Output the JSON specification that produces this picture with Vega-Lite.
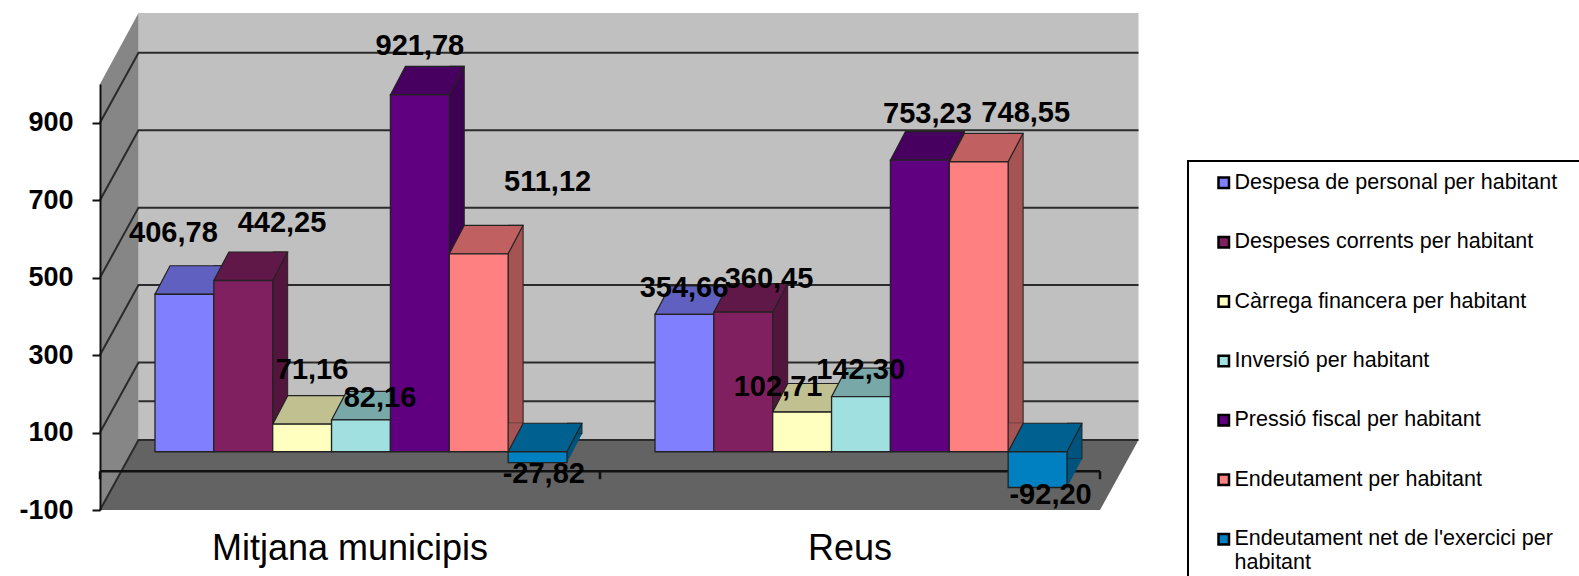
{
"$schema":"https://vega.github.io/schema/vega-lite/v6.json",
"width":1000,"height":426,
"autosize":{"type":"none"},
"padding":{"left":100,"top":84,"right":479,"bottom":66},
"background":"white",
"config":{"view":{"stroke":null}},
"datasets":{
"anchor":[{"g":"Mitjana municipis"},{"g":"Reus"}],
"ticks":[{"t":-100},{"t":100},{"t":300},{"t":500},{"t":700},{"t":900}],
"bars":[
{"g":"Mitjana municipis","s":"Despesa de personal per habitant","v":406.78,"t":"406,78"},
{"g":"Mitjana municipis","s":"Despeses corrents per habitant","v":442.25,"t":"442,25"},
{"g":"Mitjana municipis","s":"Càrrega financera per habitant","v":71.16,"t":"71,16"},
{"g":"Mitjana municipis","s":"Inversió per habitant","v":82.16,"t":"82,16"},
{"g":"Mitjana municipis","s":"Pressió fiscal per habitant","v":921.78,"t":"921,78"},
{"g":"Mitjana municipis","s":"Endeutament per habitant","v":511.12,"t":"511,12"},
{"g":"Mitjana municipis","s":"Endeutament net de l'exercici per habitant","v":-27.82,"t":"-27,82"},
{"g":"Reus","s":"Despesa de personal per habitant","v":354.66,"t":"354,66"},
{"g":"Reus","s":"Despeses corrents per habitant","v":360.45,"t":"360,45"},
{"g":"Reus","s":"Càrrega financera per habitant","v":102.71,"t":"102,71"},
{"g":"Reus","s":"Inversió per habitant","v":142.30,"t":"142,30"},
{"g":"Reus","s":"Pressió fiscal per habitant","v":753.23,"t":"753,23"},
{"g":"Reus","s":"Endeutament per habitant","v":748.55,"t":"748,55"},
{"g":"Reus","s":"Endeutament net de l'exercici per habitant","v":-92.20,"t":"-92,20"}
]},
"resolve":{"scale":{"xOffset":"independent","color":"independent"}},
"layer":[
{"data":{"name":"anchor"},
 "transform":[{"filter":"datum.g=='Mitjana municipis'"}],
 "encoding":{
  "x":{"field":"g","type":"nominal","bandPosition":0,"title":null,
   "scale":{"domain":["Mitjana municipis","Reus"],"paddingInner":0,"paddingOuter":0},
   "axis":{"domain":false,"ticks":false,"labelAngle":0,"labelFont":"Liberation Sans","labelFontSize":36,"labelColor":"#000","labelPadding":21,"labelLimit":500}},
  "y":{"datum":-100,"type":"quantitative","title":null,
   "scale":{"domain":[-100,1000],"nice":false},
   "axis":{"values":[-100,100,300,500,700,900],"labelExpr":"''+datum.value","grid":false,"zindex":1,"domainColor":"#111","domainWidth":2,"tickColor":"#111","tickWidth":2,"tickSize":8,"labelFont":"Liberation Sans","labelFontWeight":"bold","labelFontSize":27,"labelColor":"#000","labelPadding":19}}
 },
 "layer":[
  {"mark":{"type":"point","filled":true,"opacity":1,"size":4,"fill":"#c0c0c0","shape":"M38.5,-70L1038.5,-70L1038.5,-497L38.5,-497Z"}},
  {"mark":{"type":"point","filled":true,"opacity":1,"size":4,"fill":"#868686","shape":"M0,0L38.5,-70L38.5,-497L0,-426Z"}},
  {"mark":{"type":"point","filled":true,"opacity":1,"size":4,"fill":"#636363","shape":"M0,0L38.5,-70L1038.5,-70L1000,0Z"}},
  {"mark":{"type":"point","filled":true,"opacity":1,"size":4,"fill":"#ffffff","stroke":"#000","strokeWidth":2,"shape":"M1088,-349L1500,-349L1500,90L1088,90Z"}}
 ]
},
{"data":{"name":"ticks"},
 "transform":[{"calculate":"'Mitjana municipis'","as":"g"}],
 "mark":{"type":"point","filled":false,"fill":"transparent","opacity":1,"size":4,"stroke":"#2b2b2b","strokeWidth":2,"shape":"M0,0L38.5,-70L1038.5,-70"},
 "encoding":{"x":{"field":"g","type":"nominal","bandPosition":0,"title":null},
  "y":{"field":"t","type":"quantitative","title":null,"scale":{"domain":[-100,1000],"nice":false}}}
},
{"data":{"name":"anchor"},
 "transform":[{"filter":"datum.g=='Mitjana municipis'"}],
 "encoding":{"x":{"field":"g","type":"nominal","bandPosition":0,"title":null},
  "y":{"datum":0,"type":"quantitative","title":null,"scale":{"domain":[-100,1000],"nice":false}}},
 "layer":[
  {"mark":{"type":"point","filled":false,"fill":"transparent","opacity":1,"size":4,"stroke":"#2b2b2b","strokeWidth":2,"shape":"M38.5,-70L1038.5,-70"}},
  {"mark":{"type":"point","filled":false,"fill":"transparent","opacity":1,"size":4,"stroke":"#111","strokeWidth":2.5,"shape":"M0,0L1000,0M0,0L0,8M500,0L500,8M1000,0L1000,8"}}
 ]
},
{"data":{"name":"bars"},
 "mark":{"type":"bar","width":15,"yOffset":-48,"y2Offset":-48,"stroke":"#222","strokeWidth":1},
 "encoding":{
  "x":{"field":"g","type":"nominal","title":null},
  "xOffset":{"field":"s","type":"nominal","scale":{"domain":["Despesa de personal per habitant","Despeses corrents per habitant","Càrrega financera per habitant","Inversió per habitant","Pressió fiscal per habitant","Endeutament per habitant","Endeutament net de l'exercici per habitant"],"range":[36.9,536.9],"paddingInner":0,"paddingOuter":0.7475,"align":0.625}},
  "y":{"field":"v","type":"quantitative","stack":null,"title":null,"scale":{"domain":[-100,1000],"nice":false}},
  "y2":{"datum":0},
  "color":{"field":"s","type":"nominal","legend":null,"scale":{"domain":["Despesa de personal per habitant","Despeses corrents per habitant","Càrrega financera per habitant","Inversió per habitant","Pressió fiscal per habitant","Endeutament per habitant","Endeutament net de l'exercici per habitant"],"range":["#5353a6","#53153e","#a6a67d","#689292","#3e0053","#a65353","#00537d"]}}
 }
},
{"data":{"name":"bars"},
 "encoding":{
  "x":{"field":"g","type":"nominal","title":null},
  "xOffset":{"field":"s","type":"nominal","scale":{"domain":["Despesa de personal per habitant","Despeses corrents per habitant","Càrrega financera per habitant","Inversió per habitant","Pressió fiscal per habitant","Endeutament per habitant","Endeutament net de l'exercici per habitant"],"paddingInner":0,"paddingOuter":0.7475,"align":0.625}},
  "y":{"field":"v","type":"quantitative","stack":null,"title":null,"scale":{"domain":[-100,1000],"nice":false}}
 },
 "layer":[
  {"transform":[{"filter":"datum.v>=0"}],
   "mark":{"type":"point","filled":true,"opacity":1,"size":4,"yOffset":-19.5,"shape":"M29.4,-28.5L44.4,-28.5L29.4,0Z"},
   "encoding":{"y":{"datum":0,"type":"quantitative","title":null,"scale":{"domain":[-100,1000],"nice":false}},
    "color":{"field":"s","type":"nominal","legend":null,"scale":{"domain":["Despesa de personal per habitant","Despeses corrents per habitant","Càrrega financera per habitant","Inversió per habitant","Pressió fiscal per habitant","Endeutament per habitant","Endeutament net de l'exercici per habitant"],"range":["#5353a6","#53153e","#a6a67d","#689292","#3e0053","#a65353","#00537d"]}}}},
  {"transform":[{"filter":"datum.v<0"}],
   "mark":{"type":"point","filled":true,"opacity":1,"size":4,"yOffset":-19.5,"shape":"M29.4,-28.5L44.4,-28.5L29.4,0Z"},
   "encoding":{
    "color":{"field":"s","type":"nominal","legend":null,"scale":{"domain":["Despesa de personal per habitant","Despeses corrents per habitant","Càrrega financera per habitant","Inversió per habitant","Pressió fiscal per habitant","Endeutament per habitant","Endeutament net de l'exercici per habitant"],"range":["#5353a6","#53153e","#a6a67d","#689292","#3e0053","#a65353","#00537d"]}}}},
  {"transform":[{"filter":"datum.v>=0"}],
   "mark":{"type":"point","filled":true,"opacity":1,"size":4,"yOffset":-19.5,"stroke":"#222","strokeWidth":1.2,"shape":"M-29.4,0L29.4,0L44.4,-28.5L-14.4,-28.5Z"},
   "encoding":{
    "color":{"field":"s","type":"nominal","legend":null,"scale":{"domain":["Despesa de personal per habitant","Despeses corrents per habitant","Càrrega financera per habitant","Inversió per habitant","Pressió fiscal per habitant","Endeutament per habitant","Endeutament net de l'exercici per habitant"],"range":["#6060c0","#601848","#c0c090","#78a8a8","#480060","#c06060","#006090"]}}}},
  {"transform":[{"filter":"datum.v<0"}],
   "mark":{"type":"point","filled":true,"opacity":1,"size":4,"yOffset":-19.5,"stroke":"#222","strokeWidth":1.2,"shape":"M-29.4,0L29.4,0L44.4,-28.5L-14.4,-28.5Z"},
   "encoding":{"y":{"datum":0,"type":"quantitative","title":null,"scale":{"domain":[-100,1000],"nice":false}},
    "color":{"field":"s","type":"nominal","legend":null,"scale":{"domain":["Despesa de personal per habitant","Despeses corrents per habitant","Càrrega financera per habitant","Inversió per habitant","Pressió fiscal per habitant","Endeutament per habitant","Endeutament net de l'exercici per habitant"],"range":["#6060c0","#601848","#c0c090","#78a8a8","#480060","#c06060","#006090"]}}}},
  {"mark":{"type":"bar","yOffset":-19.5,"y2Offset":-19.5,"stroke":"#222","strokeWidth":1.3},
   "encoding":{"y2":{"datum":0},
    "color":{"field":"s","type":"nominal",
     "scale":{"domain":["Despesa de personal per habitant","Despeses corrents per habitant","Càrrega financera per habitant","Inversió per habitant","Pressió fiscal per habitant","Endeutament per habitant","Endeutament net de l'exercici per habitant"],"range":["#8080ff","#802060","#ffffc0","#a0e0e0","#600080","#ff8080","#0080c0"]},
     "legend":{"title":null,"orient":"none","legendX":1113,"legendY":88,"symbolType":"square","symbolSize":110,"symbolStrokeColor":"#000","symbolStrokeWidth":2.5,"symbolOpacity":1,"labelFont":"Liberation Sans","labelFontSize":21.5,"labelColor":"#000","labelLimit":400,"labelOffset":0,"rowPadding":36.4,"labelExpr":"indexof(datum.label,'exercici')>=0?['Endeutament net de l\\'exercici per','habitant']:datum.label"}}}},
  {"encoding":{"text":{"field":"t"}},
   "layer":[
    {"transform":[{"filter":"datum.t=='406,78'"}],"mark":{"type":"text","font":"Liberation Sans","fontWeight":"bold","fontSize":29,"color":"#000","baseline":"middle","dx":-11,"dy":-81}},
    {"transform":[{"filter":"datum.t=='442,25'"}],"mark":{"type":"text","font":"Liberation Sans","fontWeight":"bold","fontSize":29,"color":"#000","baseline":"middle","dx":38.7,"dy":-77}},
    {"transform":[{"filter":"datum.t=='71,16'"}],"mark":{"type":"text","font":"Liberation Sans","fontWeight":"bold","fontSize":29,"color":"#000","baseline":"middle","dx":9.9,"dy":-73.7}},
    {"transform":[{"filter":"datum.t=='82,16'"}],"mark":{"type":"text","font":"Liberation Sans","fontWeight":"bold","fontSize":29,"color":"#000","baseline":"middle","dx":19,"dy":-41}},
    {"transform":[{"filter":"datum.t=='921,78'"}],"mark":{"type":"text","font":"Liberation Sans","fontWeight":"bold","fontSize":29,"color":"#000","baseline":"middle","dx":0,"dy":-68.3}},
    {"transform":[{"filter":"datum.t=='511,12'"}],"mark":{"type":"text","font":"Liberation Sans","fontWeight":"bold","fontSize":29,"color":"#000","baseline":"middle","dx":68.9,"dy":-91.3}},
    {"transform":[{"filter":"datum.t=='-27,82'"}],"mark":{"type":"text","font":"Liberation Sans","fontWeight":"bold","fontSize":29,"color":"#000","baseline":"middle","dx":6.2,"dy":-8}},
    {"transform":[{"filter":"datum.t=='354,66'"}],"mark":{"type":"text","font":"Liberation Sans","fontWeight":"bold","fontSize":29,"color":"#000","baseline":"middle","dx":-0.4,"dy":-45.9}},
    {"transform":[{"filter":"datum.t=='360,45'"}],"mark":{"type":"text","font":"Liberation Sans","fontWeight":"bold","fontSize":29,"color":"#000","baseline":"middle","dx":25.7,"dy":-52.7}},
    {"transform":[{"filter":"datum.t=='102,71'"}],"mark":{"type":"text","font":"Liberation Sans","fontWeight":"bold","fontSize":29,"color":"#000","baseline":"middle","dx":-24.1,"dy":-44.5}},
    {"transform":[{"filter":"datum.t=='142,30'"}],"mark":{"type":"text","font":"Liberation Sans","fontWeight":"bold","fontSize":29,"color":"#000","baseline":"middle","dx":-0.3,"dy":-46.2}},
    {"transform":[{"filter":"datum.t=='753,23'"}],"mark":{"type":"text","font":"Liberation Sans","fontWeight":"bold","fontSize":29,"color":"#000","baseline":"middle","dx":7.6,"dy":-65.6}},
    {"transform":[{"filter":"datum.t=='748,55'"}],"mark":{"type":"text","font":"Liberation Sans","fontWeight":"bold","fontSize":29,"color":"#000","baseline":"middle","dx":47,"dy":-68.7}},
    {"transform":[{"filter":"datum.t=='-92,20'"}],"mark":{"type":"text","font":"Liberation Sans","fontWeight":"bold","fontSize":29,"color":"#000","baseline":"middle","dx":13,"dy":-12}}
   ]}
 ],
 "resolve":{"scale":{"color":"independent"}}
}
]
}
